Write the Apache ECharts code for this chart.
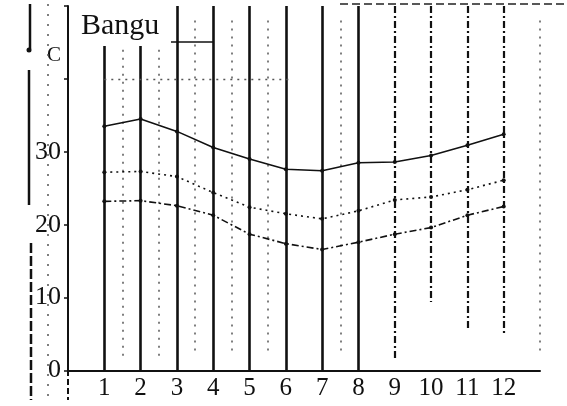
<!DOCTYPE html>
<html>
<head>
<meta charset="utf-8">
<script src="https://cdn.jsdelivr.net/npm/echarts@6/dist/echarts.min.js"></script>
<style>
html,body{margin:0;padding:0;background:#fff;}
#c{width:567px;height:406px;}
</style>
</head>
<body>
<div id="c"></div>
<script>
// ---- data ----
var stationName = 'Bangu';
var unitLabel = 'C';
var months = [1, 2, 3, 4, 5, 6, 7, 8, 9, 10, 11, 12];
var maxTemp  = [33.5, 34.5, 32.8, 30.6, 29.0, 27.6, 27.4, 28.5, 28.6, 29.5, 30.9, 32.4];
var meanTemp = [27.2, 27.3, 26.6, 24.4, 22.4, 21.5, 20.8, 21.9, 23.4, 23.8, 24.8, 26.1];
var minTemp  = [23.2, 23.3, 22.6, 21.3, 18.7, 17.4, 16.6, 17.6, 18.7, 19.6, 21.3, 22.5];
var yTickLabels = [0, 10, 20, 30];

var SERIF = '"Liberation Serif", "DejaVu Serif", serif';
var chart = echarts.init(document.getElementById('c'));

function pairs(vals) { return months.map(function (m, i) { return [m, vals[i]]; }); }

// vertical guide lines at each month (solid 1-8, dash-dot 9-12); lines 1-2 stop below the title
function lineBottom(m) { return m === 10 ? 9.4 : m === 11 ? 5.5 : m === 12 ? 4.9 : m === 9 ? 1.7 : 0; }
var monthLines = months.map(function (m) {
  return [
    { coord: [m, m <= 2 ? 44.5 : 50], lineStyle: { type: m <= 8 ? 'solid' : [7, 3, 2, 3], width: m <= 8 ? 2.6 : 2.2, color: '#111' } },
    { coord: [m, lineBottom(m)] }
  ];
});
// faint dotted guides between months
var dottedLines = months.slice(0, 5).map(function (m) { return m + 0.5; }).concat([7.5, 13]).map(function (x) {
  return [
    { coord: [x, x < 3 ? 44 : 48], lineStyle: { type: [2, 6], width: 1.5, color: '#555' } },
    { coord: [x, 2] }
  ];
});
var hLine = [[
  { coord: [1, 40], lineStyle: { type: [2, 5], width: 1.3, color: '#555' } },
  { coord: [6.2, 40] }
]];

chart.setOption({
  backgroundColor: '#fff',
  animation: false,
  title: {
    text: stationName, left: 76, top: 6,
    textStyle: { fontFamily: SERIF, fontSize: 30, fontWeight: 'normal', color: '#111' }
  },
  grid: { left: 68, right: 27, top: 6, bottom: 35.5 },
  xAxis: {
    type: 'value', min: 0, max: 13, interval: 1,
    axisLine: { lineStyle: { color: '#111', width: 2 } },
    axisTick: { show: false },
    splitLine: { show: false },
    axisLabel: {
      fontFamily: SERIF, fontSize: 25, color: '#111', margin: 5,
      formatter: function (v) { return months.indexOf(v) >= 0 ? String(v) : ''; }
    }
  },
  yAxis: {
    type: 'value', min: 0, max: 50, interval: 10,
    axisLine: { show: true, lineStyle: { color: '#111', width: 2 } },
    axisTick: { show: true, length: 4, lineStyle: { color: '#111', width: 1.5 } },
    splitLine: { show: false },
    axisLabel: {
      fontFamily: SERIF, fontSize: 26, color: '#111', margin: 7,
      formatter: function (v) { return yTickLabels.indexOf(v) >= 0 ? String(v) : ''; }
    }
  },
  graphic: [
    { type: 'text', left: 47, top: 45, style: { text: unitLabel, font: '21px ' + SERIF, fill: '#111' } },
    // scanned-page artefacts
    { type: 'line', shape: { x1: 30, y1: 4, x2: 30, y2: 49 }, style: { stroke: '#111', lineWidth: 2.5 } },
    { type: 'circle', shape: { cx: 29, cy: 50, r: 2.5 }, style: { fill: '#111' } },
    { type: 'line', shape: { x1: 29, y1: 70, x2: 29, y2: 205 }, style: { stroke: '#111', lineWidth: 2.5 } },
    { type: 'line', shape: { x1: 31, y1: 243, x2: 31, y2: 400 }, style: { stroke: '#111', lineWidth: 2.5, lineDash: [10, 3] } },
    { type: 'line', shape: { x1: 48, y1: 4, x2: 48, y2: 400 }, style: { stroke: '#555', lineWidth: 1.5, lineDash: [2, 8] } },
    { type: 'line', shape: { x1: 68, y1: 370, x2: 68, y2: 400 }, style: { stroke: '#111', lineWidth: 2, lineDash: [6, 3] } },
    { type: 'line', shape: { x1: 171, y1: 42, x2: 213, y2: 42 }, style: { stroke: '#111', lineWidth: 1.6 } },
    { type: 'line', shape: { x1: 340, y1: 4, x2: 567, y2: 4 }, style: { stroke: '#222', lineWidth: 1.5, lineDash: [8, 4] } }
  ],
  series: [
    {
      type: 'line', name: 'guides', data: [], silent: true,
      markLine: { symbol: 'none', silent: true, label: { show: false }, data: monthLines.concat(dottedLines, hLine) }
    },
    {
      type: 'line', name: 'max', data: pairs(maxTemp), symbol: 'circle', symbolSize: 4,
      lineStyle: { color: '#111', width: 1.6 }, itemStyle: { color: '#111' }, z: 5
    },
    {
      type: 'line', name: 'mean', data: pairs(meanTemp), symbol: 'circle', symbolSize: 4,
      lineStyle: { color: '#111', width: 1.6, type: [2, 4] }, itemStyle: { color: '#111' }, z: 5
    },
    {
      type: 'line', name: 'min', data: pairs(minTemp), symbol: 'circle', symbolSize: 4,
      lineStyle: { color: '#111', width: 1.6, type: [7, 3, 2, 3] }, itemStyle: { color: '#111' }, z: 5
    }
  ]
});
</script>
</body>
</html>
